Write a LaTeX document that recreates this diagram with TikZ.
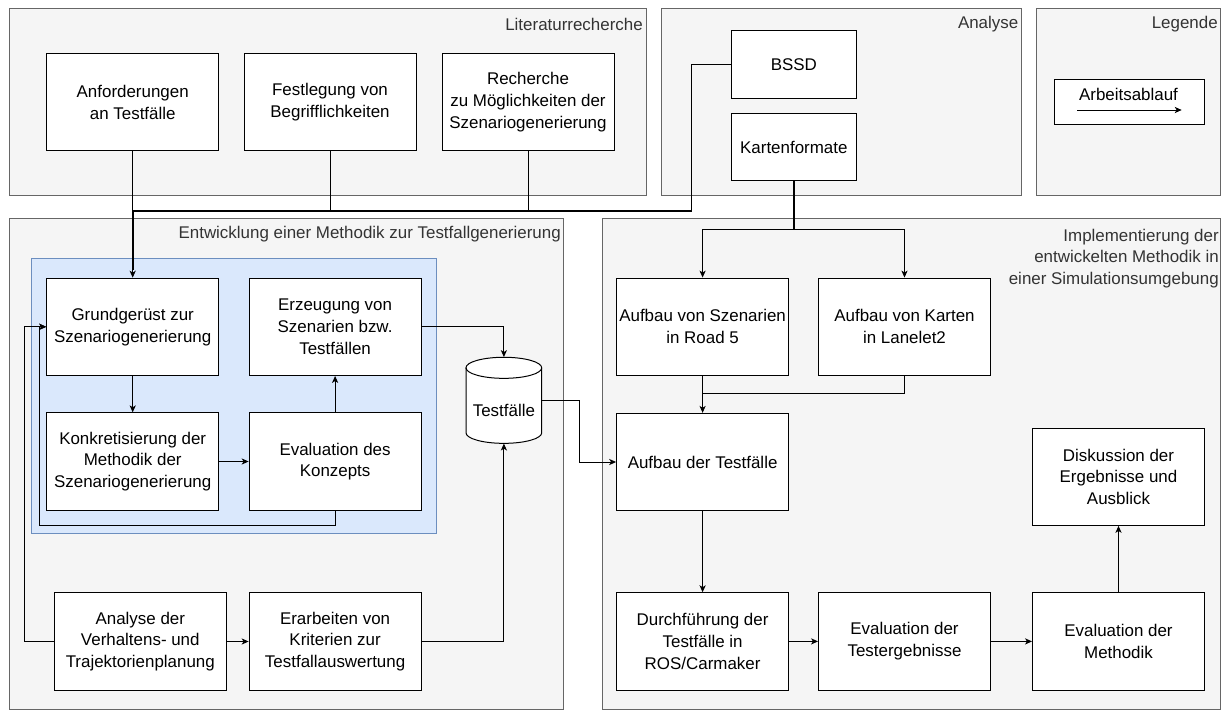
\documentclass[tikz,border=0pt]{standalone}
\usepackage{fontspec}
\setmainfont{Liberation Sans}
\usetikzlibrary{arrows.meta,calc}
\definecolor{contfill}{HTML}{F5F5F5}
\definecolor{contline}{HTML}{666666}
\definecolor{conttext}{HTML}{333333}
\definecolor{grpfill}{HTML}{DAE8FC}
\definecolor{grpline}{HTML}{6C8EBF}
\newcommand{\boxfont}{\fontsize{12.7}{16.3}\selectfont}
\tikzset{
  container/.style={draw=contline, fill=contfill, line width=0.75pt},
  conttitle/.style={text=conttext, font=\boxfont, inner sep=0pt, align=right},
  box/.style={draw=black, fill=white, line width=0.75pt, minimum width=129pt,
    minimum height=73pt, align=center, inner sep=1pt, font=\boxfont},
  smallbox/.style={box, minimum width=93.4pt, minimum height=50.6pt},
  flow/.style={draw=black, line width=0.75pt,
    -{Stealth[length=5.2pt,width=4.6pt,inset=1.4pt]}},
  link/.style={draw=black, line width=0.75pt},
  trunk/.style={draw=black, line width=1.3pt},
}
\begin{document}
\begin{tikzpicture}[x=0.75pt,y=-0.75pt]
\useasboundingbox (0,0) rectangle (1225,711);
\fill[white] (0,0) rectangle (1225,711);

% swimlane containers
\draw[container] (9.5,8.5) rectangle (646,195);
\draw[container] (661,8.5) rectangle (1021,195);
\draw[container] (1036,8.5) rectangle (1220,195);
\draw[container] (9.5,218.3) rectangle (563.5,709.5);
\draw[container] (602,218.3) rectangle (1220,709.5);

\node[conttitle, anchor=east] (tLit) at (643,24.3) {Literaturrecherche};
\node[conttitle, anchor=east] (tAna) at (1018.5,24.3) {Analyse};
\node[conttitle, anchor=east] (tLeg) at (1218,24.3) {Legende};
\node[conttitle, anchor=east] (tEnt) at (561,234.3) {Entwicklung einer Methodik zur Testfallgenerierung};
\node[conttitle, anchor=north east] (tImp) at (1219,228.5) {Implementierung der\\entwickelten Methodik in\\einer Simulationsumgebung};

% group of the concept phase
\draw[draw=grpline, fill=grpfill, line width=0.75pt] (31.6,258.3) rectangle (436.5,533.3);

% literature research
\node[box] (anf) at (132.7,102.2) {Anforderungen\\an Testfälle};
\node[box] (fest) at (330,102.2) {Festlegung von\\Begrifflichkeiten};
\node[box] (rech) at (528,102.2) {Recherche\\zu Möglichkeiten der\\Szenariogenerierung};

% analysis
\node[smallbox] (bssd) at (793.8,64.5) {BSSD};
\node[smallbox] (karten) at (793.8,147) {Kartenformate};

% legend
\node[draw=black, fill=white, line width=0.75pt, minimum width=112.5pt,
  minimum height=33.5pt, inner sep=0pt] (legbox) at (1129.3,101.7) {};
\node[font=\boxfont, inner sep=0pt] (legtext) at (1128.5,94.3) {Arbeitsablauf};
\coordinate (la) at (1077.3,110);
\coordinate (lb) at (1181.7,110);
\draw[flow] (la) -- (lb);

% method development
\node[box] (grund) at (132.7,326.8) {Grundgerüst zur\\Szenariogenerierung};
\node[box] (erz) at (335.1,326.8) {Erzeugung von\\Szenarien bzw.\\Testfällen};
\node[box] (konk) at (132.7,461.5) {Konkretisierung der\\Methodik der\\Szenariogenerierung};
\node[box] (evk) at (335.1,461.5) {Evaluation des\\Konzepts};
\node[box] (anv) at (140.3,641.5) {Analyse der\\Verhaltens- und\\Trajektorienplanung};
\node[box] (erarb) at (335.1,641.5) {Erarbeiten von\\Kriterien zur\\Testfallauswertung};

% test case store (cylinder)
\node[minimum width=56.8pt, minimum height=64.5pt, inner sep=0pt] (tf) at (503.9,400.3) {};
\draw[link, fill=white] (466,367.8) -- (466,432.8)
  arc[start angle=180, end angle=360, x radius=28.4pt, y radius=7.9pt]
  -- (541.7,367.8)
  arc[start angle=0, end angle=180, x radius=28.4pt, y radius=7.9pt] -- cycle;
\draw[link] (466,367.8) arc[start angle=180, end angle=360, x radius=28.4pt, y radius=7.9pt];
\node[font=\boxfont, inner sep=0pt] (tftext) at (503.9,410.5) {Testfälle};

% implementation
\node[box] (aufsz) at (702.6,326.7) {Aufbau von Szenarien\\in Road 5};
\node[box] (aufka) at (904.5,326.7) {Aufbau von Karten\\in Lanelet2};
\node[box] (auftf) at (702.6,462) {Aufbau der Testfälle};
\node[box] (durch) at (702.6,641.4) {Durchführung der\\Testfälle in\\ROS/Carmaker};
\node[box] (evt) at (904.5,641.4) {Evaluation der\\Testergebnisse};
\node[box] (evm) at (1118.5,641.4) {Evaluation der\\Methodik};
\node[box] (disk) at (1118.5,476.7) {Diskussion der\\Ergebnisse und\\Ausblick};

% junction points
\coordinate (j1) at (132.7,210.7);
\coordinate (bb) at (691.7,210.7);
\coordinate (ks) at (793.8,229.3);
\coordinate (m2) at (702.6,393.7);
\coordinate (c3) at (579,400.3);
\coordinate (fb1) at (24,641.5);
\coordinate (fb2) at (39,525);
\coordinate (jd) at (132.7,270);

% workflow from research into the method development
\draw[flow] (anf.south) -- (grund.north);
\draw[link] (fest.south) |- (j1);
\draw[link] (rech.south) |- (j1);
\draw[link] (bssd.west) -| (bb);
\draw[trunk] (bb) -- (j1) -- (jd);

% map formats into the implementation
\draw[trunk] (karten.south) -- (ks);
\draw[flow] (ks) -| (aufsz.north);
\draw[flow] (ks) -| (aufka.north);
\draw[flow] (aufsz.south) -- (auftf.north);
\draw[link] (aufka.south) |- (m2);

% concept loop
\draw[flow] (grund.south) -- (konk.north);
\draw[flow] (konk.east) -- (evk.west);
\draw[flow] (evk.north) -- (erz.south);
\draw[flow] (evk.south) |- (fb2) |- (grund.west);
\draw[flow] (anv.west) -- (fb1) |- (grund.west);
\draw[flow] (anv.east) -- (erarb.west);

% test cases
\draw[flow] (erz.east) -| (tf.north);
\draw[flow] (erarb.east) -| (tf.south);
\draw[flow] (tf.east) -- (c3) |- (auftf.west);

% execution and evaluation
\draw[flow] (auftf.south) -- (durch.north);
\draw[flow] (durch.east) -- (evt.west);
\draw[flow] (evt.east) -- (evm.west);
\draw[flow] (evm.north) -- (disk.south);
\end{tikzpicture}
\end{document}
